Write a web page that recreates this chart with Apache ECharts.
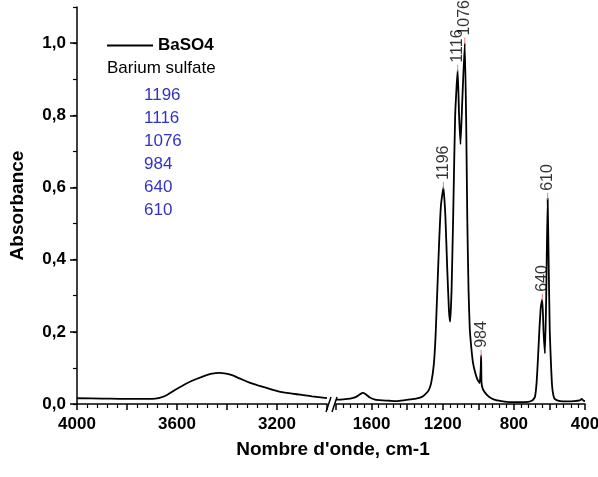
<!DOCTYPE html>
<html><head><meta charset="utf-8">
<script src="https://cdn.jsdelivr.net/npm/echarts@6/dist/echarts.min.js"></script>
<style>html,body{margin:0;padding:0;background:#fff}#c{width:598px;height:477px}</style>
</head><body><div id="c"></div>
<script>
// ---- data ----
const leftWn  = [4000, 3900, 3800, 3700, 3670, 3640, 3610, 3580, 3550, 3520, 3490, 3460, 3430, 3410, 3380, 3350, 3310, 3270, 3220, 3180, 3140, 3100, 3060, 3000];
const leftAbs = [0.016, 0.015, 0.014, 0.014, 0.017, 0.025, 0.038, 0.050, 0.061, 0.070, 0.078, 0.084, 0.086, 0.085, 0.080, 0.071, 0.059, 0.050, 0.040, 0.033, 0.029, 0.025, 0.021, 0.016];

const rightWn  = [1800, 1760, 1720, 1690, 1665, 1650, 1635, 1610, 1580, 1540, 1500, 1460, 1420, 1380, 1350, 1320, 1300, 1280, 1265, 1250, 1240, 1230, 1220, 1210, 1196, 1185, 1175, 1165, 1158, 1150, 1140, 1130, 1116, 1108, 1100, 1090, 1076, 1068, 1062, 1055, 1048, 1040, 1030, 1018, 1005, 992, 986, 984, 982, 975, 960, 940, 910, 870, 820, 760, 720, 700, 690, 681, 672, 664, 656, 648, 640, 633, 625, 618, 610, 604, 598, 592, 585, 577, 568, 540, 500, 460, 430, 418, 408, 400];
const rightAbs = [0.012, 0.013, 0.015, 0.019, 0.027, 0.031, 0.028, 0.018, 0.012, 0.010, 0.009, 0.008, 0.010, 0.013, 0.015, 0.019, 0.026, 0.037, 0.058, 0.11, 0.19, 0.32, 0.45, 0.55, 0.60, 0.52, 0.38, 0.26, 0.228, 0.32, 0.55, 0.80, 0.925, 0.80, 0.72, 0.84, 1.0, 0.78, 0.52, 0.32, 0.21, 0.16, 0.115, 0.088, 0.068, 0.058, 0.10, 0.135, 0.06, 0.042, 0.030, 0.020, 0.012, 0.008, 0.005, 0.005, 0.006, 0.009, 0.013, 0.020, 0.06, 0.13, 0.21, 0.27, 0.29, 0.20, 0.14, 0.30, 0.57, 0.38, 0.20, 0.12, 0.05, 0.022, 0.013, 0.008, 0.007, 0.008, 0.010, 0.014, 0.009, 0.008];

const peakWn = [1196, 1116, 1076, 984, 640, 610];

const xMajorLeft  = [4000, 3600, 3200];
const xMajorRight = [1600, 1200, 800, 400];
const yMajor = [0, 0.2, 0.4, 0.6, 0.8, 1.0];

const seriesName = 'BaSO4';
const subtitle = 'Barium sulfate';
const xTitle = "Nombre d'onde, cm-1";
const yTitle = 'Absorbance';

// ---- chart ----
const FONT = '"Liberation Sans", Arial, sans-serif';
const zip = (a, b) => a.map((v, i) => [v, b[i]]);
const peakData = peakWn.map(w => [w, rightAbs[rightWn.indexOf(w)]]);
const yFmt = v => Number(v).toFixed(1).replace('.', ',');

const W = 598, H = 477;
const G = {top: 7, bottom: 73, leftL: 77, rightL: 271, leftR: 336, rightR: 13};
const gridWL = W - G.leftL - G.rightL;

const chart = echarts.init(document.getElementById('c'), null, {renderer: 'canvas'});

const lineStyleAxis = {color: '#000', width: 1.5};
const minorTickStyle = {color: '#000', width: 1.2};
const majorLabel = (vals, extra) => Object.assign({
  show: true, customValues: vals, color: '#000', fontFamily: FONT,
  fontSize: 17, fontWeight: 'bold', margin: 12, formatter: v => String(v)
}, extra || {});

// x axis: scale ticks every 200 (min is a multiple of 200), minor ticks every 40, labels only at the reference values
function xAxisSeg(grid, min, max, vals) {
  return {
    gridIndex: grid, type: 'value', min: min, max: max, interval: 200, inverse: true, position: 'bottom',
    axisLine: {show: true, onZero: false, lineStyle: lineStyleAxis},
    axisTick: {show: true, length: 6, inside: false, lineStyle: lineStyleAxis},
    minorTick: {show: true, splitNumber: 5, length: 4, lineStyle: minorTickStyle},
    axisLabel: majorLabel(vals),
    splitLine: {show: false}, minorSplitLine: {show: false}
  };
}

const option = {
  animation: false,
  backgroundColor: '#fff',
  grid: [
    {left: G.leftL, right: G.rightL, top: G.top, bottom: G.bottom, outerBoundsMode: 'none', containLabel: false},
    {left: G.leftR, right: G.rightR, top: G.top, bottom: G.bottom, outerBoundsMode: 'none', containLabel: false}
  ],
  xAxis: [
    xAxisSeg(0, 3000, 4000, xMajorLeft),
    xAxisSeg(1, 400, 1800, xMajorRight)
  ],
  yAxis: [
    {
      gridIndex: 0, type: 'value', min: 0, max: 1.1, position: 'left',
      axisLine: {show: true, onZero: false, lineStyle: lineStyleAxis},
      axisTick: {show: true, customValues: yMajor, length: 7, lineStyle: lineStyleAxis},
      axisLabel: majorLabel(yMajor, {formatter: yFmt, margin: 11}),
      splitLine: {show: false},
      name: yTitle, nameLocation: 'middle', nameGap: 50,
      nameTextStyle: {color: '#000', fontFamily: FONT, fontSize: 19, fontWeight: 'bold'}
    },
    {
      gridIndex: 0, type: 'value', min: 0, max: 1.1, interval: 0.1, position: 'right', offset: -gridWL,
      axisLine: {show: false, onZero: false},
      axisTick: {show: true, inside: true, length: 4, lineStyle: minorTickStyle},
      axisLabel: {show: false}, splitLine: {show: false}
    },
    {gridIndex: 1, type: 'value', min: 0, max: 1.1, show: false}
  ],
  legend: {
    left: 107, top: 37, padding: 0,
    data: [{name: seriesName, icon: 'rect'}],
    itemWidth: 46, itemHeight: 2, itemGap: 4,
    textStyle: {color: '#000', fontFamily: FONT, fontSize: 17, fontWeight: 'bold'}
  },
  series: [
    {
      name: seriesName, type: 'line', xAxisIndex: 0, yAxisIndex: 0,
      data: zip(leftWn, leftAbs), showSymbol: false, smooth: 0.3,
      lineStyle: {color: '#000', width: 1.8}, itemStyle: {color: '#000'}
    },
    {
      name: seriesName, type: 'line', xAxisIndex: 1, yAxisIndex: 2,
      data: zip(rightWn, rightAbs), showSymbol: false, smooth: 0.15,
      lineStyle: {color: '#000', width: 1.8}, itemStyle: {color: '#000'}
    },
    {
      name: 'peaks', type: 'scatter', xAxisIndex: 1, yAxisIndex: 2,
      data: peakData, symbol: 'rect', symbolSize: [1.2, 7], symbolOffset: [0, -2],
      itemStyle: {color: '#e07a7a'}, silent: true,
      label: {
        show: true, formatter: p => String(p.value[0]), position: 'top', distance: 2,
        rotate: 90, align: 'left', verticalAlign: 'middle',
        color: '#000', fontFamily: FONT, fontSize: 16, textBorderWidth: 0
      },
      z: 5
    }
  ],
  graphic: [
    {id: 'sub', type: 'text', x: 107, y: 68, style: {text: subtitle, fill: '#000', font: '17px ' + FONT, verticalAlign: 'middle'}},
    ...peakWn.map((w, i) => ({
      id: 'pk' + i, type: 'text', x: 144, y: 95 + i * 23,
      style: {text: String(w), fill: '#3232c8', font: '17px ' + FONT, verticalAlign: 'middle'}
    })),
    {id: 'xt', type: 'text', x: 333, y: 450, style: {text: xTitle, fill: '#000', font: 'bold 19px ' + FONT, align: 'center', verticalAlign: 'middle'}}
  ]
};
chart.setOption(option);

// axis-break marks at the joint of the two x-axis segments
const xl = chart.convertToPixel({xAxisIndex: 0}, 3000);
const xr = chart.convertToPixel({xAxisIndex: 1}, 1800);
const y0 = chart.convertToPixel({yAxisIndex: 0}, 0);
chart.setOption({
  graphic: [
    {id: 'brk1', type: 'line', shape: {x1: xl - 1, y1: y0 + 8, x2: xl + 4, y2: y0 - 7}, style: {stroke: '#000', lineWidth: 1.5}},
    {id: 'brk2', type: 'line', shape: {x1: xr - 4, y1: y0 + 8, x2: xr + 1, y2: y0 - 7}, style: {stroke: '#000', lineWidth: 1.5}}
  ]
});
</script>
</body></html>
